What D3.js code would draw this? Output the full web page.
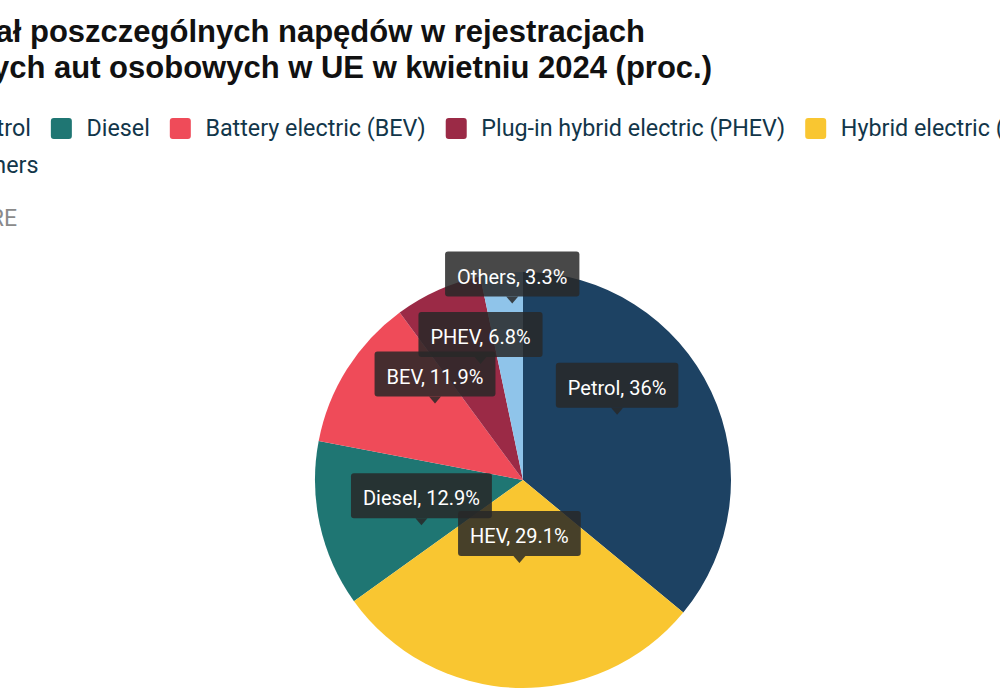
<!DOCTYPE html>
<html><head><meta charset="utf-8">
<script src="https://cdn.jsdelivr.net/npm/d3@7"></script>
<style>html,body{margin:0;padding:0;background:#fff;overflow:hidden}</style>
</head><body>
<svg id="chart" width="1000" height="700"></svg>
<script>
// ---- data ----
const categories = ["Petrol", "Diesel", "Battery electric (BEV)", "Plug-in hybrid electric (PHEV)", "Hybrid electric (HEV)", "Others"];
const shortNames = ["Petrol", "Diesel", "BEV", "PHEV", "HEV", "Others"];
const values = [36, 12.9, 11.9, 6.8, 29.1, 3.3];
const colors = ["#1d4263", "#1f7673", "#ef4b59", "#9b2a46", "#f9c631", "#8fc4ea"];
const pieOrder = ["Petrol", "HEV", "Diesel", "BEV", "PHEV", "Others"];
const titleLines = ["Udział poszczególnych napędów w rejestracjach", "nowych aut osobowych w UE w kwietniu 2024 (proc.)"];
const sourceText = "ŹRÓDŁO: ACEA, MOTORE";

// ---- layout ----
const svg = d3.select("#chart");
const cx = 523, cy = 480, R = 208;
const labelNudge = {Diesel: 44, Others: -52};

// title (cropped on the left in the reference)
const titleEnds = [645, 712];
svg.append("g").selectAll("text").data(titleLines).join("text")
  .attr("x", (d, i) => titleEnds[i])
  .attr("y", (d, i) => 42 + i * 36)
  .attr("text-anchor", "end")
  .attr("font-family", "Liberation Sans, Arial, sans-serif")
  .attr("font-weight", "bold")
  .attr("font-size", 31)
  .attr("fill", "#111")
  .text(d => d);

// legend
const legend = svg.append("g").attr("font-family", "Roboto, sans-serif").attr("font-size", 23.3).attr("fill", "#12364a");
const rowStart = -65.9;
let lx = rowStart, row = 0;
const legendData = categories.map((c, i) => ({name: c, color: colors[i]}));
legendData.forEach((d) => {
  if (d.name === "Others") { row = 1; lx = rowStart; }
  const baseY = 136 + row * 37;
  const g = legend.append("g");
  g.append("rect").attr("x", lx).attr("y", baseY - 18).attr("width", 21).attr("height", 21)
    .attr("rx", 3).attr("fill", d.color);
  const t = g.append("text").attr("x", lx + 35.6).attr("y", baseY).text(d.name);
  const w = t.node().getComputedTextLength();
  lx = lx + 35.6 + w + 20;
});

// source
svg.append("text").attr("x", 17).attr("y", 226).attr("text-anchor", "end")
  .attr("font-family", "Roboto, sans-serif").attr("font-size", 23).attr("fill", "#8a8a8a")
  .text(sourceText);

// pie
const pieData = categories.map((c, i) => ({name: c, short: shortNames[i], value: values[i], color: colors[i]}));
const pie = d3.pie().value(d => d.value)
  .sort((a, b) => pieOrder.indexOf(a.short) - pieOrder.indexOf(b.short));
const arcs = pie(pieData);
const arc = d3.arc().innerRadius(0).outerRadius(R);
const gPie = svg.append("g").attr("transform", `translate(${cx},${cy})`);
gPie.selectAll("path").data(arcs).join("path")
  .attr("d", arc).attr("fill", d => d.data.color);

// labels
const gLab = svg.append("g").attr("transform", `translate(${cx},${cy})`)
  .attr("font-family", "Roboto, sans-serif").attr("font-size", 20);
const ordered = arcs.slice().sort((a, b) => pieOrder.indexOf(b.data.short) - pieOrder.indexOf(a.data.short));
ordered.forEach(a => {
  const [x, y0] = arc.centroid(a);
  const tipY = y0 - 21 + (labelNudge[a.data.short] || 0);
  const g = gLab.append("g").attr("transform", `translate(${x},${tipY})`);
  const txt = `${a.data.short}, ${d3.format("~")(a.data.value)}%`;
  const rect = g.append("rect");
  const path = g.append("path");
  const t = g.append("text").attr("text-anchor", "middle").attr("y", -20).attr("fill", "#fff").text(txt);
  const tw = t.node().getComputedTextLength();
  const bw = tw + 24, bh = 45;
  rect.attr("x", -bw / 2).attr("y", -7 - bh).attr("width", bw).attr("height", bh).attr("rx", 3)
    .attr("fill", "rgba(40,40,40,0.85)");
  path.attr("d", "M-6,-7L0,0L6,-7Z").attr("fill", "rgba(40,40,40,0.85)");
});
</script>
</body></html>
